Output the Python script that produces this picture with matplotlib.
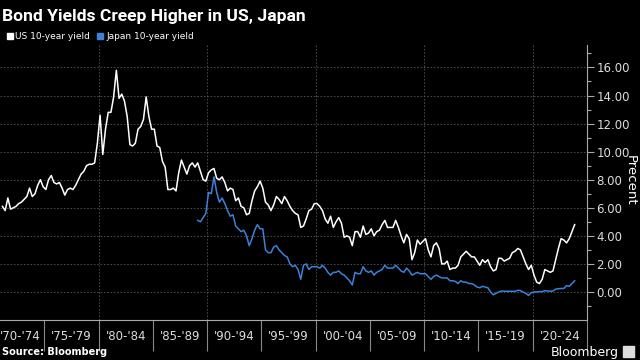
import matplotlib.pyplot as plt
import numpy as np
from matplotlib.patches import Rectangle
from matplotlib.ticker import FixedLocator, NullFormatter

# quarterly readings, US from Q1 1971, Japan from Q1 1989
us_start = 1971.0
us_yield = [
    6.1, 5.8, 6.7, 5.9,  # 1971
    6.0, 6.1, 6.3, 6.4,  # 1972
    6.6, 6.8, 7.4, 6.8,  # 1973
    7.0, 7.6, 8.0, 7.5,  # 1974
    7.3, 8.0, 8.3, 7.8,  # 1975
    7.7, 7.8, 7.4, 6.9,  # 1976
    7.3, 7.4, 7.3, 7.6,  # 1977
    8.0, 8.4, 8.6, 9.0,  # 1978
    9.1, 9.1, 9.2, 10.6,  # 1979
    12.6, 9.8, 11.6, 12.8,  # 1980
    12.8, 13.9, 15.8, 13.8,  # 1981
    14.1, 13.6, 12.5, 10.5,  # 1982
    10.4, 10.6, 11.6, 11.8,  # 1983
    12.3, 13.9, 12.5, 11.6,  # 1984
    11.6, 10.4, 10.3, 9.3,  # 1985
    8.9, 7.3, 7.3, 7.4,  # 1986
    7.2, 8.5, 9.4, 8.9,  # 1987
    8.4, 9.0, 9.2, 8.9,  # 1988
    9.2, 8.6, 8.0, 7.9,  # 1989
    8.5, 8.7, 8.8, 8.1,  # 1990
    8.0, 8.2, 7.8, 7.2,  # 1991
    7.4, 7.3, 6.5, 6.7,  # 1992
    6.1, 6.0, 5.5, 5.6,  # 1993
    6.5, 7.2, 7.5, 7.9,  # 1994
    7.4, 6.4, 6.2, 5.8,  # 1995
    6.2, 6.8, 6.6, 6.3,  # 1996
    6.8, 6.5, 6.1, 5.8,  # 1997
    5.6, 5.5, 4.6, 4.7,  # 1998
    5.2, 5.8, 5.9, 6.3,  # 1999
    6.3, 6.1, 5.8, 5.2,  # 2000
    4.9, 5.4, 4.6, 5.0,  # 2001
    5.3, 4.9, 3.9, 4.0,  # 2002
    3.9, 3.3, 4.3, 4.3,  # 2003
    3.9, 4.7, 4.1, 4.2,  # 2004
    4.5, 4.0, 4.3, 4.4,  # 2005
    4.8, 5.1, 4.6, 4.6,  # 2006
    4.6, 5.1, 4.6, 4.0,  # 2007
    3.5, 4.1, 3.8, 2.3,  # 2008
    2.8, 3.7, 3.4, 3.6,  # 2009
    3.8, 3.0, 2.5, 3.3,  # 2010
    3.5, 3.1, 2.0, 2.0,  # 2011
    2.2, 1.6, 1.7, 1.7,  # 2012
    1.9, 2.5, 2.7, 2.9,  # 2013
    2.7, 2.5, 2.5, 2.2,  # 2014
    1.9, 2.3, 2.1, 2.3,  # 2015
    1.8, 1.5, 1.6, 2.4,  # 2016
    2.4, 2.2, 2.3, 2.4,  # 2017
    2.8, 2.9, 3.1, 3.0,  # 2018
    2.5, 2.0, 1.6, 1.9,  # 2019
    1.2, 0.7, 0.6, 0.9,  # 2020
    1.6, 1.5, 1.4, 1.5,  # 2021
    2.3, 3.1, 3.8, 3.7,  # 2022
    3.5, 3.8, 4.3, 4.8,  # 2023
]

jp_start = 1989.0
jp_yield = [
    5.1, 5.0, 5.3, 5.6,  # 1989
    7.1, 7.0, 8.2, 7.1,  # 1990
    6.4, 6.7, 6.3, 5.8,  # 1991
    5.4, 5.5, 4.7, 4.5,  # 1992
    4.3, 4.4, 4.0, 3.3,  # 1993
    3.8, 4.4, 4.8, 4.5,  # 1994
    4.5, 3.0, 2.8, 2.8,  # 1995
    3.2, 3.3, 3.0, 2.8,  # 1996
    2.6, 2.5, 2.0, 1.8,  # 1997
    1.9, 1.6, 0.9, 1.9,  # 1998
    2.0, 1.6, 1.8, 1.8,  # 1999
    1.8, 1.7, 1.9, 1.7,  # 2000
    1.4, 1.2, 1.4, 1.4,  # 2001
    1.5, 1.3, 1.2, 1.0,  # 2002
    0.8, 0.5, 1.4, 1.3,  # 2003
    1.3, 1.8, 1.5, 1.4,  # 2004
    1.5, 1.2, 1.4, 1.5,  # 2005
    1.6, 1.9, 1.7, 1.7,  # 2006
    1.7, 1.9, 1.7, 1.5,  # 2007
    1.4, 1.7, 1.5, 1.2,  # 2008
    1.3, 1.4, 1.3, 1.3,  # 2009
    1.3, 1.1, 0.9, 1.1,  # 2010
    1.2, 1.1, 1.0, 1.0,  # 2011
    1.0, 0.8, 0.8, 0.75,  # 2012
    0.6, 0.8, 0.7, 0.7,  # 2013
    0.6, 0.6, 0.5, 0.35,  # 2014
    0.3, 0.4, 0.35, 0.3,  # 2015
    0.0, -0.2, -0.1, 0.0,  # 2016
    0.07, 0.05, 0.05, 0.05,  # 2017
    0.05, 0.04, 0.12, 0.1,  # 2018
    0.0, -0.1, -0.25, -0.05,  # 2019
    0.0, 0.0, 0.03, 0.02,  # 2020
    0.1, 0.07, 0.05, 0.07,  # 2021
    0.2, 0.23, 0.25, 0.25,  # 2022
    0.45, 0.4, 0.6, 0.8,  # 2023
]

period_labels = ["'70-'74", "'75-'79", "'80-'84", "'85-'89", "'90-'94", "'95-'99",
                 "'00-'04", "'05-'09", "'10-'14", "'15-'19", "'20-'24"]

BLUE = '#3b82d8'


def main():
    us_x = us_start + 0.125 + np.arange(len(us_yield)) / 4
    jp_x = jp_start + 0.125 + np.arange(len(jp_yield)) / 4

    fig = plt.figure(figsize=(6.4, 3.6), dpi=100, facecolor='black')
    ax = fig.add_axes([0.0, 0.111, 0.917, 0.764], facecolor='black')

    ax.plot(us_x, us_yield, color='white', lw=1.1)
    ax.plot(jp_x, jp_yield, color=BLUE, lw=1.1)

    ax.set_xlim(1970.9, 2025.0)
    ax.set_ylim(-2, 17.6)

    # y axis on the right
    ax.yaxis.tick_right()
    ax.set_yticks(np.arange(0, 17, 2))
    ax.set_yticklabels([f'{v:.2f}' for v in np.arange(0, 17, 2)])
    ax.yaxis.set_minor_locator(FixedLocator(np.arange(-1, 18, 2)))
    ax.tick_params(axis='y', which='major', colors='#aaaaaa', labelcolor='#dddddd',
                   labelsize=8.5, length=5, width=0.8, pad=2)
    ax.tick_params(axis='y', which='minor', colors='#aaaaaa', length=3, width=0.8)
    fig.text(0.984, 0.5, 'Precent', color='white', fontsize=9.5, rotation=270,
             ha='center', va='center')

    # x axis: separators every 5 years, labels centered in each span
    ax.set_xticks(np.arange(1975, 2026, 5))
    ax.xaxis.set_major_formatter(NullFormatter())
    label_pos = np.arange(1972.5, 2025, 5)
    label_pos[0] = 1972.8
    ax.xaxis.set_minor_locator(FixedLocator(label_pos))
    ax.set_xticklabels(period_labels, minor=True)
    ax.tick_params(axis='x', which='major', colors='#888888', length=22, width=0.8)
    ax.tick_params(axis='x', which='minor', length=0, labelcolor='#dddddd',
                   labelsize=8.5, pad=7)

    for y in np.arange(0, 17, 2):
        ax.axhline(y, color='#555555', lw=0.6, ls=(0, (2, 2)), zorder=0)
    for x in [1980, 1990, 2000, 2010, 2020]:
        ax.axvline(x, color='#555555', lw=0.6, ls=(0, (2, 2)), zorder=0)

    for side in ['top', 'left']:
        ax.spines[side].set_visible(False)
    ax.spines['right'].set_color('#aaaaaa')
    ax.spines['bottom'].set_color('#aaaaaa')
    ax.spines['right'].set_linewidth(0.8)
    ax.spines['bottom'].set_linewidth(0.8)

    fig.text(0.003, 0.955, 'Bond Yields Creep Higher in US, Japan', color='white',
             fontsize=12.6, fontweight='bold', va='center',
             family=['Roboto', 'DejaVu Sans'])

    # legend
    fig.patches.append(Rectangle((0.011, 0.891), 0.0095, 0.017, color='white',
                                 transform=fig.transFigure, figure=fig))
    fig.text(0.023, 0.899, 'US 10-year yield', color='white', fontsize=6.5, va='center')
    fig.patches.append(Rectangle((0.152, 0.891), 0.0095, 0.017, color=BLUE,
                                 transform=fig.transFigure, figure=fig))
    fig.text(0.166, 0.899, 'Japan 10-year yield', color='white', fontsize=6.5, va='center')

    fig.text(0.003, 0.022, 'Source: Bloomberg', color='white', fontsize=7,
             fontweight='bold', va='center')
    fig.text(0.967, 0.022, 'Bloomberg', color='white', fontsize=9, ha='right', va='center')
    fig.patches.append(Rectangle((0.973, 0.008), 0.017, 0.03, color='#dddddd',
                                 transform=fig.transFigure, figure=fig))

    fig.savefig('out.png', dpi=100, facecolor='black')


if __name__ == '__main__':
    main()
